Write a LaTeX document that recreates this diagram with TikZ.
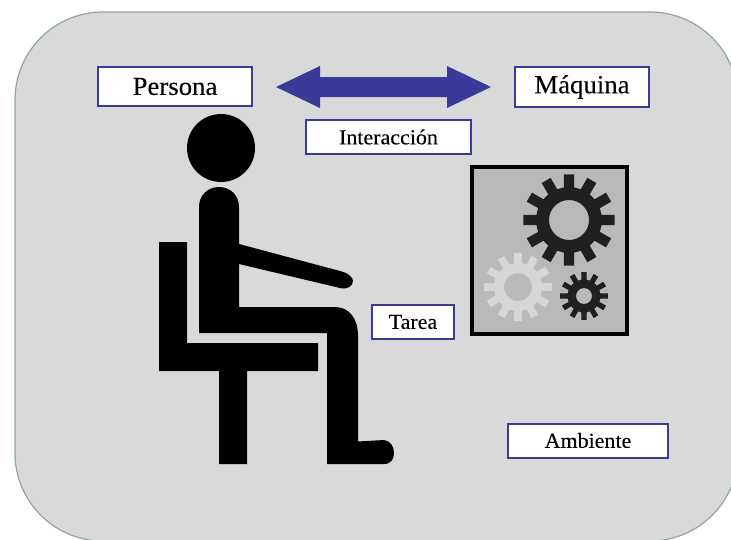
\documentclass[tikz,border=0pt]{standalone}
\usepackage{fontspec}
\setmainfont{Liberation Serif}
\newfontfamily\labelfont[FakeStretch=1.03,FakeBold=0.1]{Liberation Serif}
\definecolor{bgc}{HTML}{D9D9D9}
\definecolor{edgec}{HTML}{8FA3A8}
\definecolor{bluec}{HTML}{3A3A98}
\definecolor{panelc}{HTML}{B9B9B9}
\definecolor{gearlight}{HTML}{D6D6D6}
\definecolor{geardark}{HTML}{202020}
\newcommand{\gearshape}[6]{% cx cy root outer hole colour
  \fill[#6,even odd rule] 
    \foreach \k in {0,...,11} {
      \ifnum\k=0 ({#1+#3*cos(-9)},{#2+#3*sin(-9)}) \else -- ({#1+#3*cos(\k*30-9)},{#2+#3*sin(\k*30-9)}) \fi
      -- ({#1+#4*cos(\k*30-6.5)},{#2+#4*sin(\k*30-6.5)})
      -- ({#1+#4*cos(\k*30+6.5)},{#2+#4*sin(\k*30+6.5)})
      -- ({#1+#3*cos(\k*30+9)},{#2+#3*sin(\k*30+9)})
      -- ({#1+#3*cos(\k*30+21)},{#2+#3*sin(\k*30+21)})
    } -- cycle
    (#1,#2) circle[radius=#5];
}
\tikzset{
  label box/.style={draw=bluec,line width=1.5pt,fill=white,inner sep=0pt,anchor=center,text=black},
  big label/.style={font=\labelfont\fontsize{19.5}{22}\selectfont},
  small label/.style={font=\labelfont\fontsize{16}{18}\selectfont},
}
\begin{document}
\begin{tikzpicture}[x=0.75pt,y=-0.75pt]
\useasboundingbox (0,0) rectangle (731,539);
\fill[white] (0,0) rectangle (731,539);
% background panel
\begin{scope}
\clip (0,0) rectangle (731,539);
\draw[edgec,line width=0.9pt,fill=bgc,rounded corners=66pt] (15,12) rectangle (738,541);
\end{scope}
% labels
\node[label box,big label,minimum width=116pt,minimum height=29.5pt] (persona) at (175,86.5) {Persona};
\node[label box,big label,minimum width=101pt,minimum height=29.5pt] (maquina) at (582,87) {Máquina};
\node[label box,small label,minimum width=124pt,minimum height=26pt] (interaccion) at (388.5,137) {Interacción};
\node[label box,small label,minimum width=62pt,minimum height=26pt] (tarea) at (413,322) {Tarea};
\node[label box,small label,minimum width=120.5pt,minimum height=25.5pt] (ambiente) at (588,440.5) {Ambiente};
% double arrow
\fill[bluec] (276,87) -- (320,66) -- (320,77) -- (447,77) -- (447,66) -- (491,87) -- (447,108) -- (447,97) -- (320,97) -- (320,108) -- cycle;
% person
\fill[black] (221,148) circle[radius=34];
\fill[black] (199,333) -- (199,207) .. controls (199,195) and (208,187) .. (219,187) .. controls (230,187) and (239,195) .. (239,207) -- (239,244)
  -- (340,271) .. controls (349,273) and (353,278) .. (353,281) .. controls (353,286) and (347,290) .. (340,288) -- (239,264) -- (239,307) -- (335,307)
  .. controls (350,307) and (358,320) .. (358,335) -- (358,441.5) -- (384,440)
  .. controls (391,441) and (394,447) .. (394,453) .. controls (394,459) and (391,464) .. (384,464)
  -- (327,464) -- (327,333) -- cycle;
% chair
\fill[black] (159,242) -- (187,242) -- (187,343) -- (318,343) -- (318,371) -- (247,371) -- (247,464) -- (219,464) -- (219,371) -- (159,371) -- cycle;
% machine panel
\draw[black,line width=2.3pt,fill=panelc] (472,167) rectangle (627,334);
\gearshape{518}{287}{24}{34}{14}{gearlight}
\gearshape{569}{220}{33}{46}{20}{geardark}
\gearshape{584}{296}{16.5}{24}{8}{geardark}
\end{tikzpicture}
\end{document}
